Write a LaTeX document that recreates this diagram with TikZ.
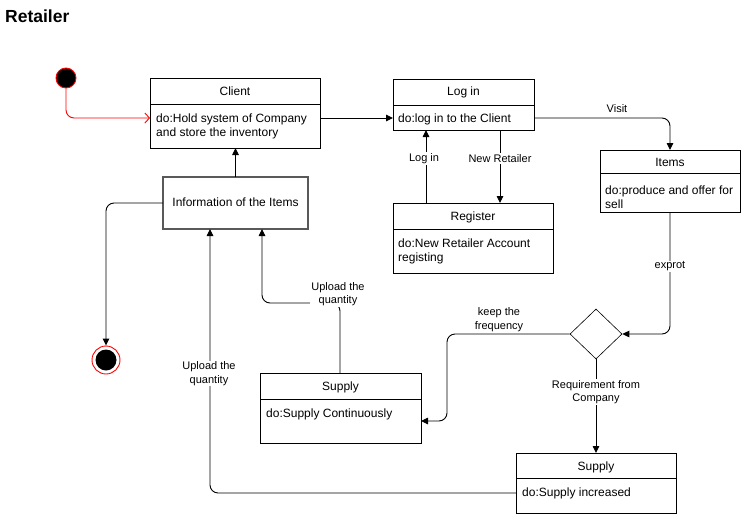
\documentclass[tikz,border=0pt]{standalone}
\usepackage{fontspec}
\setmainfont{Liberation Sans}
\usetikzlibrary{arrows.meta,shapes.geometric}
\begin{document}
\begin{tikzpicture}[x=1pt,y=-1pt,
  box/.style={draw,line width=0.9pt,inner sep=0pt,outer sep=0pt},
  divline/.style={line width=0.9pt},
  ttl/.style={font=\fontsize{12}{14}\selectfont,inner sep=0pt,anchor=base},
  bodytxt/.style={font=\fontsize{12}{14}\selectfont,inner sep=0pt,anchor=base west},
  lbl/.style={font=\fontsize{11}{13.5}\selectfont,fill=white,inner sep=1pt,align=center},
  conn/.style={line width=0.9pt,-{Triangle[length=7pt,width=6.5pt]},rounded corners=8pt},
  plain/.style={line width=0.9pt,rounded corners=8pt},
]
\useasboundingbox (0,0) rectangle (742,517);

% title
\node[font=\fontsize{17.5}{20}\selectfont\bfseries,inner sep=0pt,anchor=base west] (title) at (5,22.5) {Retailer};

% start / end
\node[circle,fill=black,draw=red,line width=0.9pt,minimum size=20pt,inner sep=0pt] (start) at (66,78) {};
\node[circle,draw=red,fill=white,line width=0.9pt,minimum size=28pt,inner sep=0pt] (final) at (106,360) {};
\node[circle,fill=black,minimum size=21pt,inner sep=0pt] (finalin) at (106,360) {};

% Client
\node[box,minimum width=170pt,minimum height=70pt] (client) at (235,113) {};
\draw[divline] (client.west |- 0,104) -- (client.east |- 0,104);
\node[ttl] (clientT) at (235,95.3) {Client};
\node[bodytxt] (clientB1) at (156,122.3) {do:Hold system of Company};
\node[bodytxt] (clientB2) at (156,136.3) {and store the inventory};

% Log in
\node[box,minimum width=141pt,minimum height=51pt] (login) at (463.5,104.5) {};
\draw[divline] (login.west |- 0,105) -- (login.east |- 0,105);
\node[ttl] (loginT) at (463.5,95.3) {Log in};
\node[bodytxt] (loginB) at (398,122.3) {do:log in to the Client};

% Items
\node[box,minimum width=140pt,minimum height=62pt] (items) at (670,181) {};
\draw[divline] (items.west |- 0,173) -- (items.east |- 0,173);
\node[ttl] (itemsT) at (670,166.3) {Items};
\node[bodytxt] (itemsB1) at (605,194.3) {do:produce and offer for};
\node[bodytxt] (itemsB2) at (605,208.3) {sell};

% Register
\node[box,minimum width=160pt,minimum height=70pt] (register) at (473,238) {};
\draw[divline] (register.west |- 0,229) -- (register.east |- 0,229);
\node[ttl] (registerT) at (473,220.3) {Register};
\node[bodytxt] (registerB1) at (398,247.3) {do:New Retailer Account};
\node[bodytxt] (registerB2) at (398,261.3) {registing};

% Information of the Items
\node[box,draw=black!65,line width=1.1pt,minimum width=145pt,minimum height=52pt] (info) at (235.5,203) {};
\node[ttl] (infoT) at (235.5,206.3) {Information of the Items};

% Supply 1
\node[box,minimum width=161pt,minimum height=70pt] (supplyA) at (340.5,408) {};
\draw[divline] (supplyA.west |- 0,399) -- (supplyA.east |- 0,399);
\node[ttl] (supplyAT) at (340.5,390.3) {Supply};
\node[bodytxt] (supplyAB) at (266,417.3) {do:Supply Continuously};

% Supply 2
\node[box,minimum width=160pt,minimum height=60pt] (supplyB) at (596,483) {};
\draw[divline] (supplyB.west |- 0,478) -- (supplyB.east |- 0,478);
\node[ttl] (supplyBT) at (596,470.3) {Supply};
\node[bodytxt] (supplyBB) at (522,496.3) {do:Supply increased};

% decision
\node[diamond,draw,line width=0.6pt,minimum width=52pt,minimum height=50pt,inner sep=0pt] (dec) at (596,334) {};

% connectors
\draw[red,line width=0.9pt,rounded corners=8pt,-{Straight Barb[length=4.5pt,width=10pt]}] (start.south) -- (66,118) -- (client.west |- 0,118);
\draw[conn] (client.east |- 0,118) -- (login.west |- 0,118);
\draw[conn] (login.east |- 0,118) -- (670,118) -- (items.north);
\draw[conn] (register.north -| 426,0) -- (login.south -| 426,0);
\draw[conn] (login.south -| 500,0) -- (register.north -| 500,0);
\draw[conn] (items.south) -- (670,334) -- (dec.east);
\draw[conn] (dec.west) -- (447,334) -- (447,421) -- (supplyA.east |- 0,421);
\draw[conn] (dec.south) -- (supplyB.north);
\draw[conn] (info.north) -- (client.south -| info.north);
\draw[conn] (info.west) -- (106,203) -- (final.north);
\draw[conn] (supplyA.north -| 340,0) -- (340,303) -- (262,303) -- (info.south -| 262,0);
\draw[conn] (supplyB.west |- 0,493) -- (210,493) -- (info.south -| 210,0);

% labels
\node[font=\fontsize{11}{13.5}\selectfont,inner sep=0pt] (lvisit) at (617,108.5) {Visit};
\node[lbl] (llogin) at (424,158.5) {Log in};
\node[lbl] (lnew) at (500,158.5) {New Retailer};
\node[lbl] (lexp) at (670,266.5) {exprot};
\node[font=\fontsize{11}{13.5}\selectfont,inner sep=0pt,align=center] (lkeep) at (499,319.5) {keep the\\frequency};
\node[lbl] (lreq) at (596,392) {Requirement from\\Company};
\node[lbl] (lupA) at (338,294) {Upload the\\quantity};
\node[lbl] (lupB) at (209,373.5) {Upload the\\quantity};
\end{tikzpicture}
\end{document}
